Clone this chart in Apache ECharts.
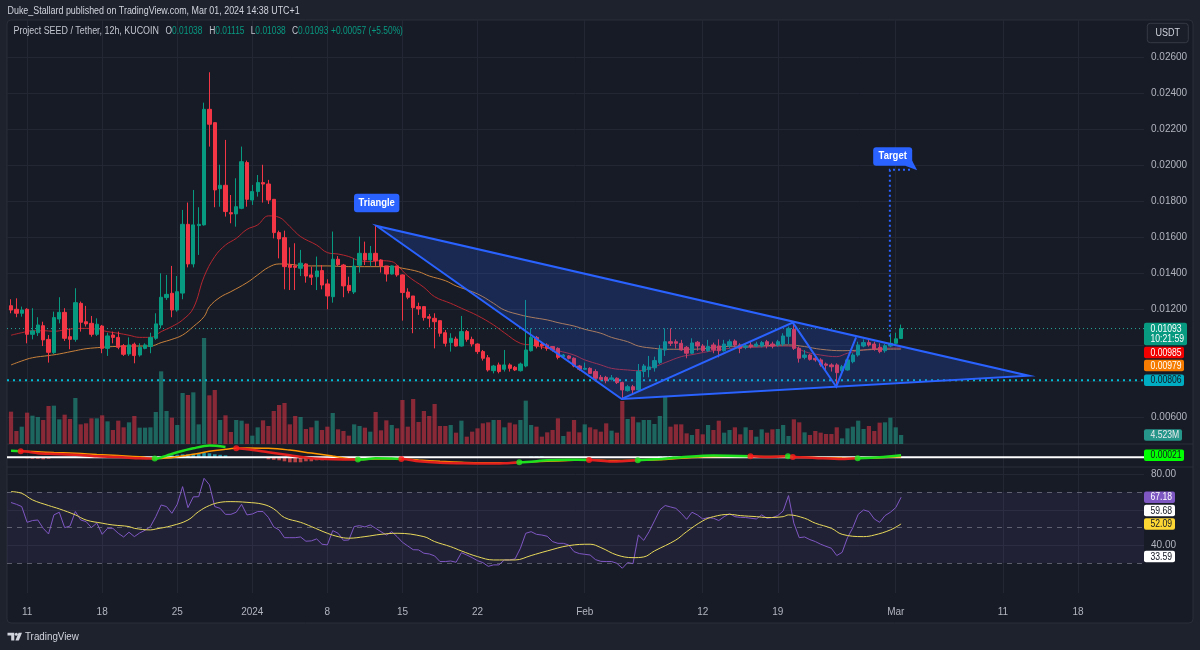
<!DOCTYPE html>
<html><head><meta charset="utf-8">
<script src="https://cdn.jsdelivr.net/npm/echarts@6/dist/echarts.min.js"></script>
<style>html,body{margin:0;padding:0;background:#1e222d;}#c{width:1200px;height:650px;}</style>
</head><body><div id="c"></div>
<script>
// ---------------- DATA ----------------
const symbolTitle = 'Project SEED / Tether, 12h, KUCOIN';
const publishLine = 'Duke_Stallard published on TradingView.com, Mar 01, 2024 14:38 UTC+1';
const quoteCurrency = 'USDT';
const countdown = '10:21:59';

// 12h candles, index 0 = 2023-12-09 12:00
const opens = [.01220,.01200,.01178,.01200,.01061,.01070,.01109,.01033,.00959,.01146,
.01183,.01048,.01033,.01233,.01131,.01122,.01061,.01107,.00983,.01057,
.01044,.00998,.00952,.01006,.00946,.00983,.00993,.01039,.01113,.01265,
.01289,.01196,.01290,.01672,.01452,.01665,.01669,.02311,.02237,.01870,
.01889,.01737,.01730,.01761,.02015,.01807,.01854,.01904,.01896,.01811,
.01626,.01598,.01446,.01441,.01428,.01452,.01391,.01381,.01415,.01341,
.01270,.01478,.01446,.01333,.01296,.01445,.01511,.01474,.01511,.01474,
.01441,.01396,.01441,.01391,.01296,.01274,.01215,.01215,.01159,.01150,
.01137,.01070,.01015,.01035,.00996,.01076,.01033,.01007,.00965,.00931,
.00859,.00891,.00867,.00891,.00878,.00859,.00885,.00970,.01044,.01007,
.01002,.00993,.00983,.00937,.00941,.00928,.00885,.00867,.00872,.00854,
.00822,.00822,.00811,.00817,.00793,.00748,.00770,.00752,.00855,.00865,
.00875,.00904,.00974,.01020,.01020,.01011,.00989,.00956,.01017,.00996,
.00970,.01002,.00996,.00970,.00996,.01024,.01002,.00989,.01002,.00996,
.00996,.01020,.01007,.01002,.01007,.01050,.01089,.00983,.00933,.00946,
.00928,.00919,.00896,.00891,.00891,.00859,.00863,.00909,.00946,.00996,
.01015,.01007,.00989,.00970,.00996,.01011,.01038];
const highs = [.01256,.01261,.01215,.01206,.01206,.01156,.01131,.01057,.01187,.01267,
.01206,.01094,.01317,.01243,.01219,.01163,.01150,.01113,.01070,.01076,
.01076,.01007,.01044,.01015,.01011,.01011,.01070,.01178,.01400,.01391,
.01441,.01385,.01752,.01793,.01863,.01767,.02348,.02517,.02237,.02003,
.02141,.01835,.01928,.02104,.02026,.01891,.01946,.02003,.01919,.01811,
.01637,.01637,.01544,.01567,.01530,.01456,.01437,.01493,.01446,.01367,
.01632,.01496,.01452,.01381,.01483,.01604,.01576,.01552,.01669,.01478,
.01441,.01444,.01441,.01394,.01317,.01274,.01237,.01215,.01174,.01178,
.01137,.01085,.01067,.01048,.01163,.01085,.01048,.01011,.00974,.00946,
.00891,.00904,.00974,.00900,.00885,.00904,.01252,.01094,.01052,.01015,
.01011,.00996,.00989,.00952,.00946,.00933,.00891,.00904,.00878,.00867,
.00835,.00830,.00835,.00822,.00798,.00780,.00780,.00896,.00896,.00941,
.00937,.01002,.01094,.01094,.01033,.01030,.00996,.01039,.01024,.01007,
.01030,.01015,.01033,.01030,.01033,.01033,.01011,.01007,.01020,.01020,
.01024,.01030,.01020,.01030,.01067,.01104,.01126,.00993,.00974,.00952,
.00937,.00928,.00904,.00900,.00900,.00891,.00928,.00956,.01020,.01033,
.01030,.01020,.01011,.01007,.01067,.01070,.01115];
const lows = [.01178,.01156,.01159,.01011,.01033,.01052,.00996,.00904,.00952,.01122,
.01024,.00978,.01020,.01076,.01104,.01048,.01052,.00956,.00941,.01011,
.00978,.00941,.00941,.00900,.00937,.00978,.00956,.01030,.01094,.01252,
.01156,.01187,.01256,.01433,.01433,.01502,.01665,.02104,.01767,.01770,
.01715,.01678,.01659,.01756,.01770,.01780,.01826,.01793,.01785,.01594,
.01483,.01311,.01307,.01307,.01385,.01348,.01335,.01307,.01311,.01200,
.01237,.01441,.01267,.01289,.01285,.01404,.01446,.01441,.01441,.01404,
.01354,.01393,.01381,.01137,.01256,.01067,.01169,.01137,.01100,.00983,
.01048,.00993,.00965,.00993,.00993,.01020,.00993,.00952,.00915,.00854,
.00844,.00844,.00854,.00854,.00857,.00854,.00878,.00965,.00983,.00978,
.00970,.00965,.00922,.00928,.00922,.00878,.00859,.00863,.00841,.00807,
.00804,.00789,.00804,.00785,.00700,.00743,.00724,.00743,.00822,.00822,
.00854,.00896,.00941,.00996,.00983,.00970,.00928,.00952,.00970,.00963,
.00963,.00956,.00933,.00965,.00983,.00989,.00956,.00978,.00983,.00989,
.00989,.00983,.00983,.00993,.00996,.01007,.00974,.00904,.00922,.00915,
.00909,.00881,.00863,.00854,.00770,.00848,.00859,.00900,.00937,.00989,
.00993,.00970,.00956,.00959,.00989,.01007,.01038];
const closes = [.01196,.01178,.01196,.01061,.01080,.01113,.01030,.00961,.01154,.01183,
.01039,.01033,.01237,.01128,.01119,.01061,.01117,.00983,.01052,.01044,
.00989,.00950,.01002,.00943,.00989,.01002,.01044,.01119,.01267,.01283,
.01196,.01298,.01672,.01452,.01669,.01672,.02311,.02228,.01863,.01889,
.01743,.01730,.01770,.02020,.01811,.01854,.01904,.01896,.01807,.01626,
.01591,.01437,.01433,.01433,.01456,.01385,.01378,.01413,.01335,.01274,
.01478,.01448,.01330,.01304,.01440,.01511,.01474,.01511,.01470,.01441,
.01396,.01441,.01391,.01293,.01267,.01209,.01202,.01154,.01150,.01131,
.01067,.01011,.01039,.00996,.01076,.01033,.01007,.00965,.00928,.00863,
.00885,.00854,.00891,.00872,.00863,.00896,.00974,.01044,.00996,.00996,
.00983,.00974,.00933,.00946,.00928,.00885,.00867,.00872,.00844,.00817,
.00811,.00804,.00819,.00793,.00752,.00770,.00752,.00855,.00885,.00880,
.00915,.00978,.01020,.01011,.01011,.00974,.00956,.01013,.00996,.00970,
.00993,.00975,.00970,.01007,.01020,.01002,.00983,.00996,.00993,.01007,
.01015,.01002,.00996,.01020,.01052,.01094,.00983,.00928,.00946,.00922,
.00919,.00891,.00889,.00881,.00848,.00881,.00919,.00946,.01002,.01015,
.01002,.00978,.00965,.00998,.01011,.01036,.01093];
// volume, millions
const volumes = [16.25,6.53,8.71,15.75,14.24,13.57,12.06,19.10,19.27,12.40,
14.74,12.56,23.12,9.88,10.39,12.90,12.90,14.41,11.39,7.04,
11.73,8.38,10.89,14.07,8.21,8.21,8.38,16.08,36.52,16.59,
13.23,9.55,25.63,24.63,25.97,9.88,53.28,24.46,27.14,12.06,
14.41,6.03,12.06,11.73,10.22,4.19,8.38,11.89,9.05,16.59,
19.60,20.61,9.88,14.07,13.57,7.54,8.38,11.73,7.04,8.71,
15.58,7.37,6.53,4.19,9.88,9.05,8.21,6.20,16.08,6.87,
11.89,9.55,7.87,22.11,8.71,22.62,11.06,16.59,14.07,20.10,
9.05,9.05,9.55,5.70,11.73,3.69,6.20,7.87,10.39,10.89,
12.06,12.06,8.38,10.72,9.88,12.06,21.78,9.55,8.71,3.69,
5.86,7.04,12.90,4.02,6.20,12.06,5.86,9.88,8.38,7.37,
6.20,10.39,6.70,5.70,21.61,12.56,13.74,10.89,12.06,12.06,
10.05,14.07,23.79,8.71,9.88,9.88,5.36,4.52,7.54,4.86,
9.55,7.04,11.73,5.70,7.04,8.38,4.86,8.38,7.04,3.69,
7.37,5.70,7.37,7.54,9.55,4.02,12.40,10.89,5.86,4.52,
6.53,5.70,5.03,5.03,8.38,2.85,7.87,8.71,11.73,7.54,
9.05,6.53,10.72,10.89,13.23,8.38,4.523];
// moving averages on price: [candle index, value]
const emaFast = [[0,.01056],[2,.01070],[4,.01081],[6,.01081],[8,.01078],[10,.01085],[12,.01093],[14,.01094],[16,.01089],[18,.01076],[20,.01067],[22,.01056],[24,.01044],[26,.01044],[28,.01076],[30,.01104],[32,.01141],[34,.01206],[36,.01381],[38,.01493],[40,.01557],[42,.01594],[44,.01644],[46,.01669],[48,.01719],[50,.01711],[52,.01660],[54,.01604],[57,.01557],[59,.01515],[61,.01507],[63,.01493],[65,.01470],[67,.01465],[69,.01470],[71,.01465],[72,.01446],[74,.01385],[77,.01322],[79,.01270],[82,.01233],[84,.01206],[87,.01165],[90,.01113],[92,.01070],[95,.01011],[97,.01002],[100,.00983],[102,.00970],[105,.00946],[107,.00919],[110,.00891],[112,.00872],[115,.00863],[117,.00859],[120,.00881],[122,.00904],[125,.00937],[127,.00948],[130,.00965],[134,.00983],[139,.00989],[144,.00996],[146,.00993],[148,.00965],[151,.00946],[154,.00937],[156,.00956],[159,.00974],[162,.00983],[166,.00985]];
const emaSlow = [[0,.00891],[2,.00913],[4,.00931],[7,.00943],[9,.00952],[12,.00970],[14,.00981],[17,.00989],[19,.00993],[22,.00996],[24,.00996],[26,.00996],[28,.01015],[30,.01033],[32,.01057],[34,.01104],[36,.01159],[37,.01215],[39,.01267],[41,.01298],[44,.01348],[46,.01391],[48,.01433],[50,.01452],[52,.01450],[55,.01441],[59,.01441],[63,.01437],[67,.01437],[71,.01437],[73,.01428],[76,.01409],[78,.01385],[81,.01359],[83,.01330],[86,.01298],[88,.01270],[90,.01233],[92,.01196],[95,.01169],[97,.01156],[100,.01141],[102,.01126],[105,.01107],[107,.01089],[110,.01067],[112,.01044],[115,.01020],[117,.00996],[120,.00983],[122,.00978],[125,.00978],[127,.00978],[133,.00993],[139,.00996],[145,.01002],[148,.00993],[151,.00978],[155,.00970],[159,.00974],[162,.00978],[166,.00979]];
// momentum pane
const macd = [[0,.00065],[2,.0006],[5,.0004],[8,.00033],[12,.00025],[16,.0001],[20,.00003],[24,-.0001],[27,-.00013],[29,.00017],[31,.0005],[34,.0009],[37,.00117],[40,.00103],[42,.0009],[44,.0008],[48,.0005],[52,.0002],[56,-.0001],[60,-.0002],[65,-.00023],[68,-.0001],[71,-.00012],[73,-.00017],[76,-.0004],[80,-.00055],[84,-.0006],[88,-.00063],[92,-.0006],[95,-.0005],[100,-.0003],[104,-.00025],[108,-.00027],[112,-.00043],[117,-.0003],[121,-.00017],[125,0],[131,.00017],[138,.0001],[141,.00003],[145,.0001],[146,.00003],[150,-.00007],[155,-.00017],[158,-.0001],[162,0],[166,.00021]];
const signal = [[0,.0006],[2,.0006],[5,.00055],[8,.00048],[12,.0004],[16,.00028],[20,.00017],[24,.00005],[27,-.00013],[29,-.00008],[31,.00005],[34,.0003],[37,.0006],[40,.0008],[42,.0009],[44,.00093],[48,.0009],[52,.00072],[56,.00042],[60,.00012],[65,-.00023],[68,-.00018],[71,-.00016],[73,-.00017],[76,-.00028],[80,-.0004],[84,-.0005],[88,-.00055],[92,-.00055],[95,-.0005],[100,-.0004],[104,-.00032],[108,-.00027],[112,-.00033],[117,-.0003],[121,-.00025],[125,-.0001],[131,.00008],[138,.0001],[141,.00008],[145,.0001],[146,.00005],[150,-.00001],[155,-.00008],[158,-.0001],[162,-.00005],[166,.00005]];
const crossUp = [[26.8,-.00013],[64.7,-.00023],[94.8,-.0005],[116.9,-.0003],[144.9,.0001],[157.9,-.0001]];
const crossDown = [[1.8,.0006],[42,.0009],[72.8,-.00017],[107.8,-.00027],[137.9,.0001],[145.8,.00003]];
const histogram = [[3,-.0001],[4,-.00015],[5,-.00015],[6,-.0002],[7,-.00015],[28,.0001],[29,.00015],[30,.0002],[31,.00025],[32,.0003],[33,.0003],[34,.00035],[35,.0004],[36,.00045],[37,.0004],[38,.0003],[39,.00025],[40,.0002],[48,-.0002],[49,-.00025],[50,-.0003],[51,-.0004],[52,-.0005],[53,-.0005],[54,-.0005],[55,-.0004],[56,-.0004],[57,-.0003],[58,-.0003],[97,.0001],[98,.0001],[99,.00012],[121,.0001],[122,.0001],[123,.00012],[124,.0001]];
// RSI pane
const rsi = [64.2,63.2,61.9,53.0,54.0,54.3,49.6,46.4,57.2,58.7,
50.0,50.9,59.1,54.3,53.4,50.0,52.6,46.2,49.6,49.6,
46.8,44.7,47.4,44.9,47.0,48.5,50.6,56.2,62.8,61.9,
58.1,63.2,73.2,61.3,67.4,67.5,77.9,74.2,61.9,60.9,
57.5,57.5,58.7,63.2,57.2,57.7,59.1,59.1,55.8,50.4,
48.7,44.3,44.3,44.3,44.7,42.3,42.5,43.6,40.6,40.2,
48.3,46.8,42.8,43.0,50.6,51.1,50.4,51.5,49.6,47.7,
45.8,47.7,44.9,41.7,39.6,37.5,37.4,35.5,35.1,34.0,
30.8,30.8,31.1,30.4,35.8,34.5,33.0,31.3,30.2,28.1,
28.9,28.9,31.7,31.7,32.3,38.3,46.8,47.7,46.2,45.8,
45.1,42.1,41.1,41.1,40.2,36.4,35.3,34.9,34.5,31.9,
30.9,30.8,30.8,29.8,27.0,30.2,29.6,45.8,42.8,47.7,
53.8,60.0,62.5,61.7,60.9,58.1,54.7,58.7,57.2,54.9,
55.7,55.3,54.0,56.2,57.9,56.2,55.8,55.7,55.3,54.9,
57.2,55.3,55.7,56.8,59.4,68.1,52.5,44.3,44.7,43.2,
42.1,40.6,39.4,38.3,34.2,36.0,44.3,50.0,57.5,60.0,
59.1,54.9,53.0,56.8,58.7,61.3,67.18];
const rsiMA = [[0,70.4],[2,69.4],[4,65.7],[7,62.5],[9,60.6],[12,57.2],[14,54.3],[17,52.5],[19,51.5],[22,50.6],[23,49.6],[26,48.7],[27,49.2],[30,51.1],[33,54.3],[35,59.1],[37,62.5],[39,64.3],[41,64.7],[44,64.3],[47,63.2],[49,60.6],[51,55.7],[54,53.0],[56,50.6],[59,46.8],[61,44.9],[63,44.0],[66,44.9],[69,46.2],[72,46.8],[77,44.9],[79,42.1],[82,39.2],[84,36.8],[87,33.6],[90,31.7],[94,31.7],[97,34.2],[100,36.8],[104,39.8],[108,40.6],[110,38.7],[113,34.5],[116,33.0],[118,33.4],[120,36.8],[124,43.0],[126,47.7],[129,53.8],[131,56.2],[134,57.5],[136,56.8],[139,56.2],[141,55.7],[144,56.2],[145,57.2],[148,55.3],[150,52.5],[153,49.6],[155,46.2],[159,44.9],[161,45.8],[164,48.7],[166,52.09]];
const rsiUpperBand = 59.68;
const rsiLowerBand = 33.59;
const rsiLevels = [30, 50, 70];
const rsiGridTicks = [40, 60, 80];
const rsiLabelTicks = [40, 80];
// axes
const timeTickIdx = [3,17,31,45,59,73,87,107,129,143,165,185,199];
const timeTickText = ['11','18','25','2024','8','15','22','Feb','12','19','Mar','11','18'];
const priceGridTicks = [0.006,0.008,0.010,0.012,0.014,0.016,0.018,0.020,0.022,0.024,0.026];
const priceLabelTicks = [0.006,0.012,0.014,0.016,0.018,0.020,0.022,0.024,0.026];
// drawings: [candle index, price]
const supportLevel = 0.00806;
const trianglePts = [[68.2,0.01663],[113.9,0.00702],[189.8,0.00831]];
const zigzag = [[113.9,0.00702],[145.8,0.01126],[153.9,0.00770],[157.6,0.01044]];
const targetLine = [[163.9,0.01048],[163.9,0.01975],[168.2,0.01975]];
const targetAnchor = [169.0,0.01972];
const triangleLabel = 'Triangle';
const targetLabel = 'Target';

// ---------------- CHART ----------------
const FONT = '"Liberation Sans",Arial,sans-serif';
const SX = 0.9; // horizontal text compression used for overlay texts
const UP = '#089981', DOWN = '#f23645', GRIDC = '#232734', TXT = '#b2b5be';
const XMIN = -0.75, XMAX = 211.3;
const n = closes.length;
const last = n - 1;

const chart = echarts.init(document.getElementById('c'), null, {renderer: 'canvas'});

function xAxisFor(gi, showLabels) {
  return {
    type: 'value', gridIndex: gi, min: XMIN, max: XMAX,
    axisLine: {show: false},
    axisTick: {show: false, customValues: timeTickIdx},
    splitLine: {show: true, lineStyle: {color: GRIDC, width: 1}},
    axisLabel: showLabels ? {
      show: true, customValues: timeTickIdx, color: TXT, fontSize: 10, fontFamily: FONT, margin: 14,
      formatter: v => { const k = timeTickIdx.indexOf(v); return k >= 0 ? timeTickText[k] : ''; }
    } : {show: false}
  };
}
function hLine(v) { return [[XMIN, v], [XMAX, v]]; }

// MACD coloured segments
const crosses = crossUp.map(p => ({x: p[0], y: p[1], up: true}))
  .concat(crossDown.map(p => ({x: p[0], y: p[1], up: false})))
  .sort((a, b) => a.x - b.x);
function upAt(x) {
  let s = !crosses[0].up;
  for (const c of crosses) { if (c.x <= x) s = c.up; }
  return s;
}
const merged = macd.map(p => ({x: p[0], y: p[1], cross: false}))
  .concat(crosses.map(c => ({x: c.x, y: c.y, cross: true})))
  .sort((a, b) => a.x - b.x);
const macdUpData = [], macdDownData = [];
merged.forEach(pt => {
  if (pt.cross) { macdUpData.push([pt.x, pt.y]); macdDownData.push([pt.x, pt.y]); }
  else if (upAt(pt.x)) { macdUpData.push([pt.x, pt.y]); macdDownData.push([pt.x, null]); }
  else { macdDownData.push([pt.x, pt.y]); macdUpData.push([pt.x, null]); }
});

function overlayText(id, text, x, y, opts) {
  opts = opts || {};
  return {type: 'text', id: id, z: opts.z || 10, x: x, y: y, scaleX: opts.sx || SX,
    style: Object.assign({text: text, x: 0, y: 0, fill: opts.fill || '#d1d4dc', font: (opts.size || 10) + 'px ' + FONT,
      align: opts.align || 'left', verticalAlign: 'middle'}, opts.extra || {})};
}

const option = {
  animation: false,
  backgroundColor: '#1e222d',
  grid: [
    {left: 7, right: 56, top: 20, height: 424},
    {left: 7, right: 56, top: 444, height: 23},
    {left: 7, right: 56, top: 467, height: 126}
  ],
  xAxis: [xAxisFor(0, false), xAxisFor(1, false), xAxisFor(2, true)],
  yAxis: [
    {type: 'value', gridIndex: 0, position: 'right', min: 0.004517, max: 0.028072,
      axisLine: {show: false}, axisTick: {show: false, customValues: priceGridTicks},
      splitLine: {show: true, lineStyle: {color: GRIDC}},
      axisLabel: {customValues: priceLabelTicks, formatter: v => v.toFixed(5), color: TXT, fontSize: 10, fontFamily: FONT, margin: 7}},
    {type: 'value', gridIndex: 0, min: 0, max: 213.1, show: false, splitLine: {show: false}},
    {type: 'value', gridIndex: 1, min: -0.00097, max: 0.00133, show: false, splitLine: {show: false}},
    {type: 'value', gridIndex: 2, position: 'right', min: 13.0, max: 84.3,
      axisLine: {show: false}, axisTick: {show: false, customValues: rsiGridTicks},
      splitLine: {show: true, lineStyle: {color: GRIDC}},
      axisLabel: {customValues: rsiLabelTicks, formatter: v => v.toFixed(2), color: TXT, fontSize: 10, fontFamily: FONT, margin: 7}}
  ],
  series: [
    {type: 'bar', name: 'Volume', xAxisIndex: 0, yAxisIndex: 1, barWidth: 4.2, z: 1, silent: true,
      data: volumes.map((v, i) => ({value: [i, v], itemStyle: {color: closes[i] >= opens[i] ? 'rgba(34,171,148,0.52)' : 'rgba(242,54,69,0.52)'}}))},
    {type: 'line', name: 'price line', xAxisIndex: 0, yAxisIndex: 0, data: hLine(closes[last]), showSymbol: false, silent: true, z: 2,
      lineStyle: {color: '#26a69a', type: [1, 3], width: 1}},
    {type: 'line', name: 'support', xAxisIndex: 0, yAxisIndex: 0, data: hLine(supportLevel), showSymbol: false, silent: true, z: 2,
      lineStyle: {color: '#00bcd4', type: [2, 4], width: 2}},
    {type: 'line', name: 'EMA fast', xAxisIndex: 0, yAxisIndex: 0, data: emaFast, showSymbol: false, smooth: 0.4, z: 3, silent: true,
      lineStyle: {color: '#b3262f', width: 1}},
    {type: 'line', name: 'EMA slow', xAxisIndex: 0, yAxisIndex: 0, data: emaSlow, showSymbol: false, smooth: 0.4, z: 3, silent: true,
      lineStyle: {color: '#c8813b', width: 1}},
    {type: 'candlestick', name: 'SEEDUSDT', xAxisIndex: 0, yAxisIndex: 0, barWidth: 3.8, z: 4, silent: true,
      encode: {x: 0, y: [1, 2, 3, 4]},
      data: opens.map((o, i) => [i, o, closes[i], lows[i], highs[i]]),
      itemStyle: {color: UP, color0: DOWN, borderColor: UP, borderColor0: DOWN, borderWidth: 1}},
    {type: 'custom', name: 'drawings', xAxisIndex: 0, yAxisIndex: 0, z: 6, silent: true,
      data: [trianglePts[0]],
      renderItem: function (params, api) {
        const P = p => api.coord(p);
        const tri = trianglePts.map(P);
        const zz = zigzag.map(P);
        const tl = targetLine.map(P);
        const tip = P(targetAnchor);
        const tv = P(trianglePts[0]);
        const bx = tip[0] - 44, by = tip[1] - 23, bw = 39, bh = 18.4;
        return {type: 'group', children: [
          {type: 'polygon', shape: {points: tri}, style: {fill: 'rgba(41,98,255,0.2)'}},
          {type: 'polygon', shape: {points: tri}, style: {fill: 'none', stroke: '#2962ff', lineWidth: 2}},
          {type: 'polyline', shape: {points: zz}, style: {fill: 'none', stroke: '#2962ff', lineWidth: 2}},
          {type: 'polyline', shape: {points: tl}, style: {fill: 'none', stroke: '#2962ff', lineWidth: 2, lineDash: [2, 3]}},
          {type: 'polygon', shape: {points: [[bx + bw - 7, by + bh], [bx + bw, by + bh - 5], [tip[0], tip[1]]]}, style: {fill: '#2962ff'}},
          {type: 'rect', shape: {x: bx, y: by, width: bw, height: bh, r: 3}, style: {fill: '#2962ff'}},
          {type: 'text', x: bx + bw / 2, y: by + bh / 2, scaleX: 0.9, style: {text: targetLabel, x: 0, y: 0, fill: '#ffffff', font: '600 10.5px ' + FONT, align: 'center', verticalAlign: 'middle'}},
          {type: 'rect', shape: {x: tv[0] - 22.7, y: tv[1] - 32.2, width: 45.4, height: 18.4, r: 3}, style: {fill: '#2962ff'}},
          {type: 'text', x: tv[0], y: tv[1] - 23, scaleX: 0.9, style: {text: triangleLabel, x: 0, y: 0, fill: '#ffffff', font: '600 10.5px ' + FONT, align: 'center', verticalAlign: 'middle'}}
        ]};
      }},
    // momentum pane
    {type: 'bar', name: 'hist', xAxisIndex: 1, yAxisIndex: 2, barWidth: 3.6, silent: true, z: 1,
      data: histogram.map(p => ({value: p, itemStyle: {color: p[1] >= 0 ? 'rgba(38,198,218,0.7)' : 'rgba(255,82,82,0.7)'}}))},
    {type: 'line', name: 'zero', xAxisIndex: 1, yAxisIndex: 2, data: hLine(0), showSymbol: false, silent: true, z: 2,
      lineStyle: {color: '#ffffff', width: 2}},
    {type: 'line', name: 'signal', xAxisIndex: 1, yAxisIndex: 2, data: signal, showSymbol: false, smooth: 0.4, silent: true, z: 3,
      lineStyle: {color: '#ff9800', width: 1.5}},
    {type: 'line', name: 'macdUp', xAxisIndex: 1, yAxisIndex: 2, data: macdUpData, showSymbol: false, smooth: 0.3, silent: true, z: 4,
      connectNulls: false, lineStyle: {color: '#1ee01e', width: 2.5}},
    {type: 'line', name: 'macdDown', xAxisIndex: 1, yAxisIndex: 2, data: macdDownData, showSymbol: false, smooth: 0.3, silent: true, z: 4,
      connectNulls: false, lineStyle: {color: '#e0201e', width: 2.5}},
    {type: 'scatter', name: 'crossUp', xAxisIndex: 1, yAxisIndex: 2, data: crossUp, symbolSize: 6, silent: true, z: 5,
      itemStyle: {color: '#22e622'}},
    {type: 'scatter', name: 'crossDown', xAxisIndex: 1, yAxisIndex: 2, data: crossDown, symbolSize: 6, silent: true, z: 5,
      itemStyle: {color: '#ff1a1a'}},
    // RSI pane
    {type: 'line', name: 'RSI', xAxisIndex: 2, yAxisIndex: 3, data: rsi.map((v, i) => [i, v]), showSymbol: false, silent: true, z: 4,
      lineStyle: {color: '#7e57c2', width: 1},
      markArea: {silent: true, itemStyle: {color: 'rgba(126,87,194,0.1)'}, data: [[{yAxis: rsiLevels[0]}, {yAxis: rsiLevels[2]}]]},
      markLine: {silent: true, symbol: 'none', label: {show: false}, animation: false,
        lineStyle: {color: 'rgba(135,138,150,0.6)', type: [5, 5], width: 1},
        data: rsiLevels.map(v => ({yAxis: v}))}},
    {type: 'line', name: 'RSI MA', xAxisIndex: 2, yAxisIndex: 3, data: rsiMA, showSymbol: false, smooth: 0.4, silent: true, z: 5,
      lineStyle: {color: '#e8d95a', width: 1}}
  ],
  graphic: [
    {type: 'rect', id: 'frame', z: -10, shape: {x: 7, y: 20, width: 1186, height: 603, r: 4}, style: {fill: '#171b26', stroke: '#2a2e39', lineWidth: 1}},
    {type: 'line', id: 'sep1', z: 1, shape: {x1: 7, y1: 444, x2: 1193, y2: 444}, style: {stroke: '#2a2e39', lineWidth: 1}},
    {type: 'line', id: 'sep2', z: 1, shape: {x1: 7, y1: 467, x2: 1193, y2: 467}, style: {stroke: '#2a2e39', lineWidth: 1}},
    overlayText('pub', publishLine, 7.5, 11.5, {sx: 0.89, size: 10, fill: '#d1d4dc'}),
    overlayText('sym', symbolTitle, 13.5, 31.5, {sx: 0.89, size: 10, fill: '#c3c6ce'}),
    {type: 'rect', id: 'usdtbox', z: 10, shape: {x: 1147.3, y: 23.3, width: 41, height: 19.4, r: 3}, style: {fill: '#1a1e29', stroke: '#363a45', lineWidth: 1}},
    overlayText('usdt', quoteCurrency, 1167.8, 33, {z: 11, align: 'center', size: 10}),
    // TradingView logo
    {type: 'polygon', id: 'lg1', z: 10, shape: {points: [[7.5, 632.8], [14.3, 632.8], [14.3, 640.6], [11.2, 640.6], [11.2, 635.6], [7.5, 635.6]]}, style: {fill: '#d1d4dc'}},
    {type: 'circle', id: 'lg2', z: 10, shape: {cx: 16.3, cy: 634.3, r: 1.5}, style: {fill: '#d1d4dc'}},
    {type: 'polygon', id: 'lg3', z: 10, shape: {points: [[18.6, 632.8], [22, 632.8], [18.8, 640.6], [15.4, 640.6]]}, style: {fill: '#d1d4dc'}},
    overlayText('lgt', 'TradingView', 25, 637, {sx: 0.89, size: 11})
  ]
};
chart.setOption(option);

// legend values derived from data
const chg = closes[last] - closes[last - 1];
const pct = chg / closes[last - 1] * 100;
const legendItems = [
  ['O', opens[last].toFixed(5), 165.5], ['H', highs[last].toFixed(5), 209.3],
  ['L', lows[last].toFixed(5), 250.7], ['C', closes[last].toFixed(5), 292]
];
const g2 = [];
legendItems.forEach((it, k) => {
  g2.push(overlayText('lgk' + k, '{k|' + it[0] + '}{v|' + it[1] + '}', it[2], 31.5,
    {sx: 0.84, size: 10, extra: {rich: {k: {fill: '#c3c6ce', font: '10px ' + FONT}, v: {fill: UP, font: '10px ' + FONT}}}}));
});
g2.push(overlayText('lgchg', (chg >= 0 ? '+' : '') + chg.toFixed(5) + ' (' + (chg >= 0 ? '+' : '') + pct.toFixed(2) + '%)', 331, 31.5,
  {sx: 0.84, size: 10, fill: UP}));

// price-scale tags positioned through the axes
function tagEls(idPrefix, tags, stack) {
  const out = [];
  let prevBottom = -1e9;
  tags.map(t => Object.assign({}, t, {py: chart.convertToPixel({yAxisIndex: t.axis}, t.v)}))
    .sort((a, b) => a.py - b.py)
    .forEach((t, k) => {
      const h = t.lines.length * 11 + 0.5;
      let top = t.py - 5.75;
      if (stack && top < prevBottom + 1.5) top = prevBottom + 1.5;
      prevBottom = top + h;
      out.push({type: 'rect', id: idPrefix + 'r' + k, z: 50, shape: {x: 1144, y: top, width: t.w, height: h, r: 2}, style: {fill: t.bg}});
      t.lines.forEach((s, j) => out.push(overlayText(idPrefix + 't' + k + '_' + j, s, 1150.5, top + 5.9 + j * 10.6,
        {z: 51, sx: 0.82, size: 10.5, fill: t.fg})));
    });
  return out;
}
const priceTags = [
  {axis: 0, v: closes[last], lines: [closes[last].toFixed(5), countdown], bg: '#089981', fg: '#ffffff', w: 43},
  {axis: 0, v: emaFast[emaFast.length - 1][1], lines: [emaFast[emaFast.length - 1][1].toFixed(5)], bg: '#f20000', fg: '#ffffff', w: 40},
  {axis: 0, v: emaSlow[emaSlow.length - 1][1], lines: [emaSlow[emaSlow.length - 1][1].toFixed(5)], bg: '#f57c00', fg: '#ffffff', w: 40},
  {axis: 0, v: supportLevel, lines: [supportLevel.toFixed(5)], bg: '#00acc1', fg: '#131722', w: 40}
];
const otherTags = [
  {axis: 1, v: volumes[last], lines: [volumes[last].toFixed(3) + 'M'], bg: '#26958a', fg: '#e8eaed', w: 38},
  {axis: 2, v: macd[macd.length - 1][1], lines: [macd[macd.length - 1][1].toFixed(5)], bg: '#00ff00', fg: '#131722', w: 40}
];
const rsiTags = [
  {axis: 3, v: rsi[last], lines: [rsi[last].toFixed(2)], bg: '#7e57c2', fg: '#ffffff', w: 31},
  {axis: 3, v: rsiUpperBand, lines: [rsiUpperBand.toFixed(2)], bg: '#ffffff', fg: '#131722', w: 31},
  {axis: 3, v: rsiMA[rsiMA.length - 1][1], lines: [rsiMA[rsiMA.length - 1][1].toFixed(2)], bg: '#fdd835', fg: '#131722', w: 31},
  {axis: 3, v: rsiLowerBand, lines: [rsiLowerBand.toFixed(2)], bg: '#ffffff', fg: '#131722', w: 31}
];
chart.setOption({graphic: g2.concat(tagEls('pt', priceTags, true), tagEls('ot', otherTags, false), tagEls('rt', rsiTags, false))});
</script>
</body></html>
